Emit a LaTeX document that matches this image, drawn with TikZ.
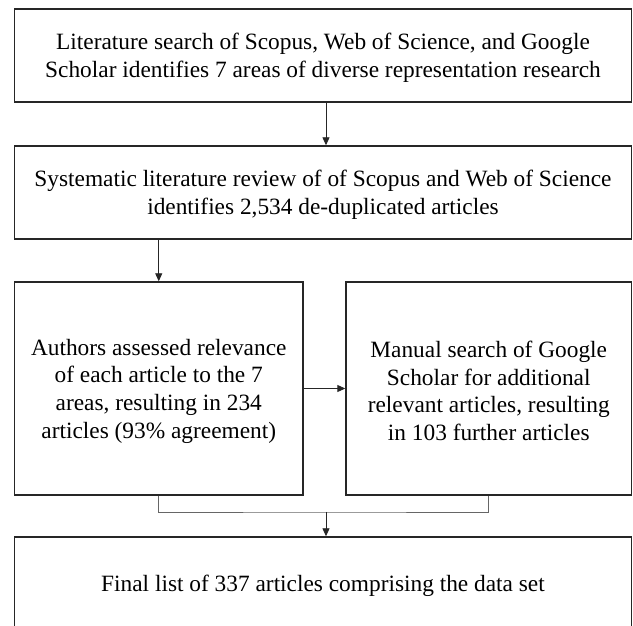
\documentclass[tikz,border=0pt]{standalone}
\usepackage{fontspec}
\setmainfont{Liberation Serif}
\usetikzlibrary{arrows.meta}
\newcommand\tup{\rule{0pt}{21.5pt}}
\begin{document}
\begin{tikzpicture}[x=1pt,y=1pt,
  box/.style={draw=black!85,line width=1.4pt,align=center,inner sep=0pt,
    font=\fontsize{23.35}{27.7}\selectfont},
  arr/.style={draw=black!85,line width=0.9pt,-{Triangle[length=8pt,width=7pt]}},
  link/.style={draw=black!60,line width=0.9pt}]
\useasboundingbox (0,0) rectangle (633,625);
% y_tikz = 625 - y_img
\node[box,minimum width=617pt,minimum height=93pt] (b1) at (323,569.5)
  {\tup Literature search of Scopus, Web of Science, and Google\\Scholar identifies 7 areas of diverse representation research};
\node[box,minimum width=617pt,minimum height=93pt] (b2) at (323,432.5)
  {\tup Systematic literature review of of Scopus and Web of Science\\identifies 2,534 de-duplicated articles};
\node[box,minimum width=288.5pt,minimum height=213pt] (b3) at (158.75,236.5)
  {\tup Authors assessed relevance\\of each article to the 7\\areas, resulting in 234\\articles (93\% agreement)};
\node[box,minimum width=285.5pt,minimum height=213pt] (b4) at (488.75,236.5)
  {\tup Manual search of Google\\Scholar for additional\\relevant articles, resulting\\in 103 further articles};
\node[box,minimum width=617pt,minimum height=92pt] (b5) at (323,42)
  {\tup Final list of 337 articles comprising the data set};
\coordinate (j) at (326,113);
\draw[arr] ([xshift=3pt]b1.south) -- ([xshift=3pt]b2.north);
\draw[arr] (b3.north |- b2.south) -- (b3.north);
\draw[arr] (b3.east) -- (b4.west);
\draw[link] (b3.south) |- (j) -| (b4.south);
\draw[arr] (j) -- (j |- b5.north);
\end{tikzpicture}
\end{document}
